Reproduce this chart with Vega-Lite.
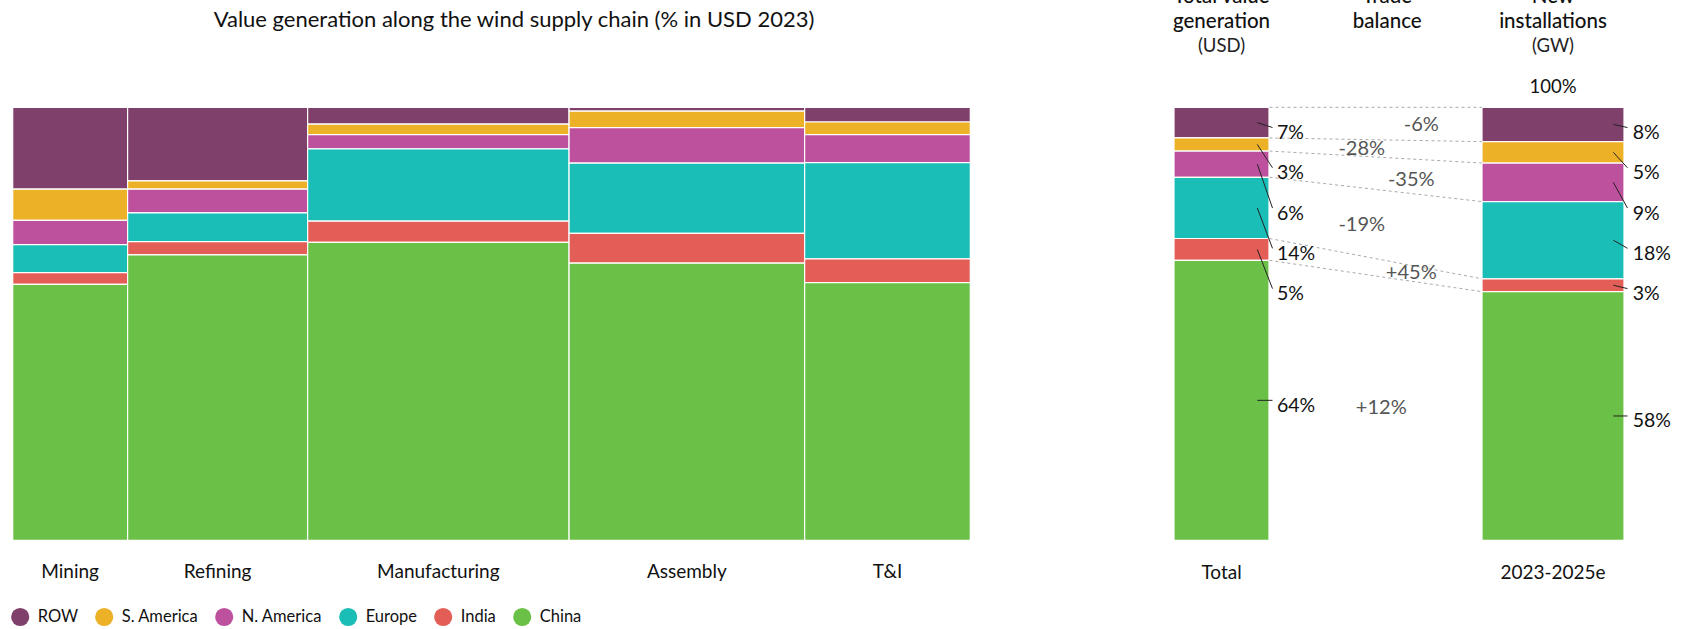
{
  "$schema": "https://vega.github.io/schema/vega-lite/v6.json",
  "width": 1660,
  "height": 433,
  "autosize": {"type": "none"},
  "padding": {"left": 12.7, "top": 107.3, "right": 14.3, "bottom": 88.7},
  "config": {
    "view": {"stroke": null},
    "font": "Lato",
    "axis": {"disable": true},
    "text": {"font": "Lato"}
  },
  "datasets": {
    "chain": [
      {"stage": "Mining", "step": 1, "w": 12.0, "region": "ROW", "ord": 6, "pct": 18.9},
      {"stage": "Mining", "step": 1, "w": 12.0, "region": "S. America", "ord": 5, "pct": 7.2},
      {"stage": "Mining", "step": 1, "w": 12.0, "region": "N. America", "ord": 4, "pct": 5.6},
      {"stage": "Mining", "step": 1, "w": 12.0, "region": "Europe", "ord": 3, "pct": 6.5},
      {"stage": "Mining", "step": 1, "w": 12.0, "region": "India", "ord": 2, "pct": 2.7},
      {"stage": "Mining", "step": 1, "w": 12.0, "region": "China", "ord": 1, "pct": 59.1},
      {"stage": "Refining", "step": 2, "w": 18.8, "region": "ROW", "ord": 6, "pct": 17.0},
      {"stage": "Refining", "step": 2, "w": 18.8, "region": "S. America", "ord": 5, "pct": 1.9},
      {"stage": "Refining", "step": 2, "w": 18.8, "region": "N. America", "ord": 4, "pct": 5.5},
      {"stage": "Refining", "step": 2, "w": 18.8, "region": "Europe", "ord": 3, "pct": 6.6},
      {"stage": "Refining", "step": 2, "w": 18.8, "region": "India", "ord": 2, "pct": 3.1},
      {"stage": "Refining", "step": 2, "w": 18.8, "region": "China", "ord": 1, "pct": 65.9},
      {"stage": "Manufacturing", "step": 3, "w": 27.3, "region": "ROW", "ord": 6, "pct": 3.9},
      {"stage": "Manufacturing", "step": 3, "w": 27.3, "region": "S. America", "ord": 5, "pct": 2.4},
      {"stage": "Manufacturing", "step": 3, "w": 27.3, "region": "N. America", "ord": 4, "pct": 3.3},
      {"stage": "Manufacturing", "step": 3, "w": 27.3, "region": "Europe", "ord": 3, "pct": 16.7},
      {"stage": "Manufacturing", "step": 3, "w": 27.3, "region": "India", "ord": 2, "pct": 4.9},
      {"stage": "Manufacturing", "step": 3, "w": 27.3, "region": "China", "ord": 1, "pct": 68.8},
      {"stage": "Assembly", "step": 4, "w": 24.6, "region": "ROW", "ord": 6, "pct": 0.9},
      {"stage": "Assembly", "step": 4, "w": 24.6, "region": "S. America", "ord": 5, "pct": 3.8},
      {"stage": "Assembly", "step": 4, "w": 24.6, "region": "N. America", "ord": 4, "pct": 8.2},
      {"stage": "Assembly", "step": 4, "w": 24.6, "region": "Europe", "ord": 3, "pct": 16.2},
      {"stage": "Assembly", "step": 4, "w": 24.6, "region": "India", "ord": 2, "pct": 6.9},
      {"stage": "Assembly", "step": 4, "w": 24.6, "region": "China", "ord": 1, "pct": 64.0},
      {"stage": "T&I", "step": 5, "w": 17.3, "region": "ROW", "ord": 6, "pct": 3.4},
      {"stage": "T&I", "step": 5, "w": 17.3, "region": "S. America", "ord": 5, "pct": 2.9},
      {"stage": "T&I", "step": 5, "w": 17.3, "region": "N. America", "ord": 4, "pct": 6.5},
      {"stage": "T&I", "step": 5, "w": 17.3, "region": "Europe", "ord": 3, "pct": 22.2},
      {"stage": "T&I", "step": 5, "w": 17.3, "region": "India", "ord": 2, "pct": 5.5},
      {"stage": "T&I", "step": 5, "w": 17.3, "region": "China", "ord": 1, "pct": 59.5}
    ],
    "totals": [
      {"region": "ROW", "ord": 6, "total": 0.07, "install": 0.08, "trade": "-6%"},
      {"region": "S. America", "ord": 5, "total": 0.03, "install": 0.05, "trade": "-28%"},
      {"region": "N. America", "ord": 4, "total": 0.06, "install": 0.09, "trade": "-35%"},
      {"region": "Europe", "ord": 3, "total": 0.14, "install": 0.18, "trade": "-19%"},
      {"region": "India", "ord": 2, "total": 0.05, "install": 0.03, "trade": "+45%"},
      {"region": "China", "ord": 1, "total": 0.64, "install": 0.58, "trade": "+12%"}
    ],
    "cols": [
      {"col": "Total", "head": "Total value|generation", "unit": "(USD)", "foot": "Total"},
      {"col": "Trade balance", "head": "Trade|balance"},
      {"col": "2023-2025e", "head": "New|installations", "unit": "(GW)", "foot": "2023-2025e", "top": "100%"}
    ]
  },
  "resolve": {"scale": {"x": "independent"}},
  "layer": [
    {
      "data": {"name": "chain"},
      "transform": [
        {"stack": "w", "groupby": ["region"], "sort": [{"field": "step", "order": "ascending"}], "offset": "normalize", "as": ["x0", "x1"]},
        {"stack": "pct", "groupby": ["stage"], "sort": [{"field": "ord", "order": "ascending"}], "offset": "normalize", "as": ["y0", "y1"]}
      ],
      "layer": [
        {
          "mark": {"type": "bar", "stroke": "white", "strokeWidth": 1.2},
          "encoding": {
            "x": {"field": "x0", "type": "quantitative", "scale": {"domain": [0, 1], "range": [0, 957.6], "nice": false, "zero": false}, "axis": null},
            "x2": {"field": "x1"},
            "y": {"field": "y0", "type": "quantitative", "scale": {"domain": [0, 1], "nice": false}, "axis": null},
            "y2": {"field": "y1"},
            "color": {
              "field": "region", "type": "nominal",
              "scale": {"domain": ["ROW", "S. America", "N. America", "Europe", "India", "China"], "range": ["#7F406B", "#ECB126", "#BE519E", "#1BBEB7", "#E45E58", "#6BC148"]},
              "legend": {"orient": "none", "legendX": -2, "legendY": 500, "direction": "horizontal", "title": null, "symbolType": "circle", "symbolSize": 330, "symbolStrokeWidth": 0, "symbolOpacity": 1, "labelFontSize": 16.5, "labelFont": "Lato", "labelColor": "#111", "labelOffset": 8, "columnPadding": 16}
            }
          }
        },
        {
          "transform": [{"filter": "datum.region === 'China'"}, {"calculate": "(datum.x0 + datum.x1) / 2", "as": "xc"}],
          "mark": {"type": "text", "dy": 38, "baseline": "alphabetic", "align": "center", "fontSize": 19, "color": "#111"},
          "encoding": {
            "x": {"field": "xc", "type": "quantitative"},
            "y": {"datum": 0, "type": "quantitative"},
            "text": {"field": "stage"}
          }
        },
        {
          "transform": [{"filter": "datum.region === 'China' && datum.step === 1"}],
          "mark": {"type": "text", "dx": 22.5, "dy": -87, "baseline": "middle", "align": "center", "fontSize": 22, "color": "#111"},
          "encoding": {
            "x": {"datum": 0.5, "type": "quantitative"},
            "y": {"datum": 1, "type": "quantitative"},
            "text": {"value": "Value generation along the wind supply chain (% in USD 2023)"}
          }
        }
      ]
    },
    {
      "data": {"name": "totals"},
      "transform": [
        {"stack": "total", "groupby": [], "sort": [{"field": "ord", "order": "ascending"}], "offset": "normalize", "as": ["t0", "t1"]},
        {"stack": "install", "groupby": [], "sort": [{"field": "ord", "order": "ascending"}], "offset": "normalize", "as": ["i0", "i1"]},
        {"calculate": "(datum.t0 + datum.t1) / 2", "as": "tm"},
        {"calculate": "(datum.i0 + datum.i1) / 2", "as": "im"},
        {"calculate": "(datum.tm + datum.im) / 2", "as": "trm"},
        {"calculate": "datum.ord === 1 ? datum.tm - 0.0127 : 0.9406 - 0.093 * (6 - datum.ord)", "as": "tl"},
        {"calculate": "datum.ord === 1 ? datum.im - 0.0127 : 0.9406 - 0.093 * (6 - datum.ord)", "as": "il"},
        {"calculate": "datum.tl + 0.0127", "as": "tle"},
        {"calculate": "datum.il + 0.0127", "as": "ile"}
      ],
      "layer": [
        {
          "mark": {"type": "bar", "width": 95, "stroke": "white", "strokeWidth": 1.2},
          "encoding": {
            "x": {"datum": "Total", "type": "nominal", "scale": {"type": "point", "domain": ["Total", "Trade balance", "2023-2025e"], "range": [1208.8, 1540.3], "padding": 0}, "axis": null},
            "y": {"field": "t0", "type": "quantitative", "axis": null},
            "y2": {"field": "t1"},
            "color": {"field": "region", "type": "nominal"}
          }
        },
        {
          "mark": {"type": "bar", "width": 142, "stroke": "white", "strokeWidth": 1.2},
          "encoding": {
            "x": {"datum": "2023-2025e", "type": "nominal"},
            "y": {"field": "i0", "type": "quantitative"},
            "y2": {"field": "i1"},
            "color": {"field": "region", "type": "nominal"}
          }
        },
        {
          "mark": {"type": "rule", "xOffset": 48, "x2Offset": -71, "stroke": "#aaaaaa", "strokeWidth": 1, "strokeDash": [3, 3]},
          "encoding": {
            "x": {"datum": "Total", "type": "nominal"},
            "x2": {"datum": "2023-2025e"},
            "y": {"field": "t1", "type": "quantitative"},
            "y2": {"field": "i1"}
          }
        },
        {
          "mark": {"type": "rule", "xOffset": 35.8, "x2Offset": 51, "stroke": "#222", "strokeWidth": 1},
          "encoding": {
            "x": {"datum": "Total", "type": "nominal"},
            "x2": {"datum": "Total"},
            "y": {"field": "tm", "type": "quantitative"},
            "y2": {"field": "tle"}
          }
        },
        {
          "mark": {"type": "text", "dx": 55.5, "align": "left", "baseline": "middle", "fontSize": 19.5, "color": "#111"},
          "encoding": {
            "x": {"datum": "Total", "type": "nominal"},
            "y": {"field": "tl", "type": "quantitative"},
            "text": {"field": "total", "type": "quantitative", "format": ".0%"}
          }
        },
        {
          "mark": {"type": "rule", "xOffset": 60.3, "x2Offset": 74.5, "stroke": "#222", "strokeWidth": 1},
          "encoding": {
            "x": {"datum": "2023-2025e", "type": "nominal"},
            "x2": {"datum": "2023-2025e"},
            "y": {"field": "im", "type": "quantitative"},
            "y2": {"field": "ile"}
          }
        },
        {
          "mark": {"type": "text", "dx": 79.7, "align": "left", "baseline": "middle", "fontSize": 19.5, "color": "#111"},
          "encoding": {
            "x": {"datum": "2023-2025e", "type": "nominal"},
            "y": {"field": "il", "type": "quantitative"},
            "text": {"field": "install", "type": "quantitative", "format": ".0%"}
          }
        },
        {
          "transform": [{"filter": "datum.region === 'ROW'"}],
          "mark": {"type": "text", "dx": 34, "dy": 1, "align": "center", "baseline": "middle", "fontSize": 20, "color": "#555"},
          "encoding": {
            "x": {"datum": "Trade balance", "type": "nominal"},
            "y": {"field": "trm", "type": "quantitative"},
            "text": {"field": "trade"}
          }
        },
        {
          "transform": [{"filter": "datum.region === 'N. America'"}],
          "mark": {"type": "text", "dx": 24, "dy": 7, "align": "center", "baseline": "middle", "fontSize": 20, "color": "#555"},
          "encoding": {
            "x": {"datum": "Trade balance", "type": "nominal"},
            "y": {"field": "trm", "type": "quantitative"},
            "text": {"field": "trade"}
          }
        },
        {
          "transform": [{"filter": "datum.region === 'India'"}],
          "mark": {"type": "text", "dx": 24, "dy": 6, "align": "center", "baseline": "middle", "fontSize": 20, "color": "#555"},
          "encoding": {
            "x": {"datum": "Trade balance", "type": "nominal"},
            "y": {"field": "trm", "type": "quantitative"},
            "text": {"field": "trade"}
          }
        },
        {
          "transform": [{"filter": "datum.region === 'S. America' || datum.region === 'Europe'"}],
          "mark": {"type": "text", "dx": -25.5, "dy": 1, "align": "center", "baseline": "middle", "fontSize": 20, "color": "#555"},
          "encoding": {
            "x": {"datum": "Trade balance", "type": "nominal"},
            "y": {"field": "trm", "type": "quantitative"},
            "text": {"field": "trade"}
          }
        },
        {
          "transform": [{"filter": "datum.region === 'China'"}],
          "mark": {"type": "text", "dx": -6, "align": "center", "baseline": "middle", "fontSize": 20, "color": "#555"},
          "encoding": {
            "x": {"datum": "Trade balance", "type": "nominal"},
            "y": {"field": "trm", "type": "quantitative"},
            "text": {"field": "trade"}
          }
        },
        {
          "data": {"name": "cols"},
          "layer": [
            {
              "mark": {"type": "text", "lineBreak": "|", "lineHeight": 25, "dy": -104, "align": "center", "baseline": "alphabetic", "fontSize": 20.5, "fontWeight": 500, "color": "#111"},
              "encoding": {
                "x": {"field": "col", "type": "nominal"},
                "y": {"datum": 1, "type": "quantitative"},
                "text": {"field": "head"}
              }
            },
            {
              "transform": [{"filter": "datum.unit"}],
              "mark": {"type": "text", "dy": -55, "align": "center", "baseline": "alphabetic", "fontSize": 18.5, "color": "#222"},
              "encoding": {
                "x": {"field": "col", "type": "nominal"},
                "y": {"datum": 1, "type": "quantitative"},
                "text": {"field": "unit"}
              }
            },
            {
              "transform": [{"filter": "datum.top"}],
              "mark": {"type": "text", "dy": -14, "align": "center", "baseline": "alphabetic", "fontSize": 18.5, "color": "#111"},
              "encoding": {
                "x": {"field": "col", "type": "nominal"},
                "y": {"datum": 1, "type": "quantitative"},
                "text": {"field": "top"}
              }
            },
            {
              "transform": [{"filter": "datum.foot"}],
              "mark": {"type": "text", "dy": 39, "align": "center", "baseline": "alphabetic", "fontSize": 19, "color": "#111"},
              "encoding": {
                "x": {"field": "col", "type": "nominal"},
                "y": {"datum": 0, "type": "quantitative"},
                "text": {"field": "foot"}
              }
            }
          ]
        }
      ]
    }
  ]
}
